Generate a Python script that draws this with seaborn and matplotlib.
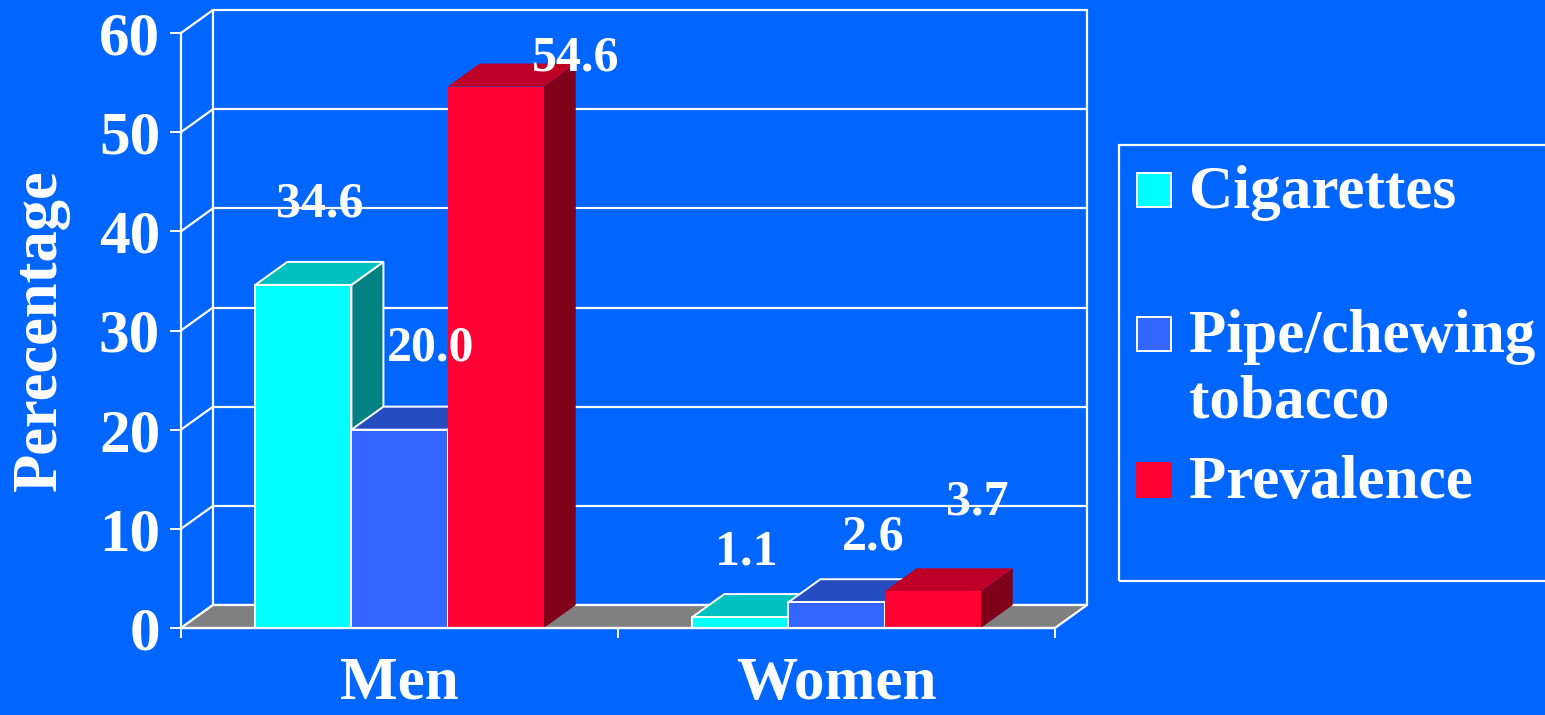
import numpy as np
import pandas as pd
import matplotlib
matplotlib.use("Agg")
import matplotlib.pyplot as plt
from matplotlib.patches import Polygon, Rectangle
from matplotlib.colors import to_rgb
import seaborn as sns

# Data
groups = ["Men", "Women"]
series = ["Cigarettes", "Pipe/chewing\ntobacco", "Prevalence"]
men_values = [34.6, 20.0, 54.6]
women_values = [1.1, 2.6, 3.7]
y_ticks = [0, 10, 20, 30, 40, 50, 60]

# Look of the old PowerPoint 3D chart
BG = "#0066FF"
front_colors = ["#00FFFF", "#3366FF", "#FF0033"]
edge_colors = ["white", "white", "none"]
FLOOR = "#808080"
DEPTH_PX = (32, 23)          # how far the back wall sits behind the front plane
W, H = 1545, 715
# nudges of the value labels from the front-top centre of each bar (pixels)
label_nudge = [[(16, 80), (31, 81), (80, 28)],
               [(6, 65), (37, 65), (45, 89)]]

sns.set_style("white", {"axes.facecolor": BG, "figure.facecolor": BG})
plt.rcParams["font.family"] = ["Liberation Serif", "DejaVu Serif"]
plt.rcParams["font.weight"] = "bold"

df = pd.DataFrame({
    "group": np.repeat(groups, len(series)),
    "kind": series * len(groups),
    "pct": men_values + women_values,
})

fig = plt.figure(figsize=(W / 100, H / 100), dpi=100)
ax = fig.add_axes([181 / W, (H - 628) / H, 874 / W, 595 / H])
ax.set_facecolor(BG)

sns.barplot(data=df, x="group", y="pct", hue="kind", order=groups, hue_order=series,
            palette=front_colors, width=0.66, saturation=1, legend=False, ax=ax)
ax.set_xlim(-0.5, 1.5)
ax.set_ylim(0, 60)

# depth offset in data units
dx = DEPTH_PX[0] / 874 * 2
dy = DEPTH_PX[1] / 595 * 60
x_lo, x_hi = -0.5, 1.5
line_kw = dict(color="white", lw=1.6, clip_on=False, zorder=1)

# back wall: gridlines, edges; left wall: diagonals
for t in y_ticks:
    ax.plot([x_lo + dx, x_hi + dx], [t + dy, t + dy], **line_kw)
    ax.plot([x_lo, x_lo + dx], [t, t + dy], **line_kw)
ax.plot([x_lo + dx, x_lo + dx], [dy, 60 + dy], **line_kw)
ax.plot([x_hi + dx, x_hi + dx], [dy, 60 + dy], **line_kw)

# grey floor
ax.add_patch(Polygon([(x_lo, 0), (x_hi, 0), (x_hi + dx, dy), (x_lo + dx, dy)],
                     closed=True, facecolor=FLOOR, edgecolor="white", lw=1.6,
                     clip_on=False, zorder=1.5))


def shade(c, f):
    r, g, b = to_rgb(c)
    return (r * f, g * f, b * f)


# turn the flat bars into boxes, drawn left to right
bars = []
for j in range(len(series)):
    for i in range(len(groups)):
        bars.append((ax.patches[j * len(groups) + i], i, j))
bars.sort(key=lambda b: b[0].get_x())

for rank, (bar, i, j) in enumerate(bars):
    z = 3 + rank * 0.1
    x0, w, h = bar.get_x(), bar.get_width(), bar.get_height()
    ec = edge_colors[j]
    lw = 1.4 if ec != "none" else 0
    side = Polygon([(x0 + w, 0), (x0 + w + dx, dy), (x0 + w + dx, h + dy), (x0 + w, h)],
                   closed=True, facecolor=shade(front_colors[j], 0.5), edgecolor=ec,
                   lw=lw, clip_on=False, zorder=z)
    top = Polygon([(x0, h), (x0 + w, h), (x0 + w + dx, h + dy), (x0 + dx, h + dy)],
                  closed=True, facecolor=shade(front_colors[j], 0.75), edgecolor=ec,
                  lw=lw, clip_on=False, zorder=z)
    ax.add_patch(side)
    ax.add_patch(top)
    bar.set_edgecolor(ec)
    bar.set_linewidth(lw)
    bar.set_zorder(z + 0.01)

    value = [men_values, women_values][i][j]
    nx, ny = label_nudge[i][j]
    ax.annotate(f"{value:.1f}", (x0 + w / 2, h), xytext=(nx, ny),
                textcoords="offset pixels", ha="center", va="center",
                color="white", fontsize=36, fontweight="bold", zorder=20,
                annotation_clip=False)

# axes, ticks and labels
for s in ["top", "right"]:
    ax.spines[s].set_visible(False)
for s in ["left", "bottom"]:
    ax.spines[s].set_color("white")
    ax.spines[s].set_linewidth(1.6)
    ax.spines[s].set_zorder(10)

ax.set_yticks(y_ticks)
ax.tick_params(axis="y", colors="white", direction="out", length=8, width=1.4,
               pad=7, labelsize=44, left=True)
ax.set_xticks([0, 1], groups)
ax.set_xticks([-0.5, 0.5, 1.5], minor=True)
ax.tick_params(axis="x", which="major", length=0, pad=20, labelsize=44, labelcolor="white")
ax.tick_params(axis="x", which="minor", colors="white", direction="out", length=7.5,
               width=1.4, bottom=True)
for lab in ax.get_xticklabels() + ax.get_yticklabels():
    lab.set_fontweight("bold")

ax.set_xlabel("")
ax.set_ylabel("Perecentage", color="white", fontsize=45, fontweight="bold")
ax.yaxis.set_label_coords(-0.127, 0.5)

# legend box, drawn by hand to keep the slide layout
def fx(x):
    return x / W


def fy(y):
    return 1 - y / H


fig.add_artist(Rectangle((fx(1119), fy(581)), fx(1600) - fx(1119), fy(145) - fy(581),
                         transform=fig.transFigure, facecolor="none",
                         edgecolor="white", lw=1.6))
patch_tops = [173, 317, 463]
baselines = [208, 352, 498]
for j, name in enumerate(series):
    ec = "white" if edge_colors[j] != "none" else front_colors[j]
    fig.add_artist(Rectangle((fx(1137), fy(patch_tops[j] + 34)), fx(34), 34 / H,
                             transform=fig.transFigure, facecolor=front_colors[j],
                             edgecolor=ec, lw=1.4))
    for k, line in enumerate(name.split("\n")):
        fig.text(fx(1189), fy(baselines[j] + k * 66), line, color="white",
                 fontsize=44, fontweight="bold", ha="left", va="baseline")

fig.savefig("out.png", dpi=100, facecolor=BG)
